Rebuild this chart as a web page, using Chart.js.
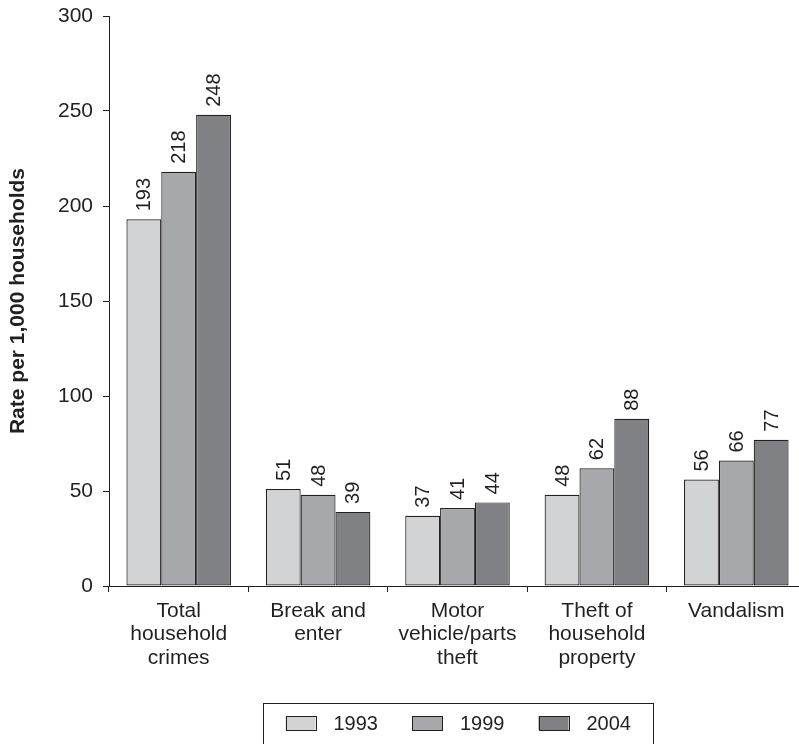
<!DOCTYPE html>
<html>
<head>
<meta charset="utf-8">
<script src="https://cdn.jsdelivr.net/npm/chart.js@4"></script>
<style>
  html, body { margin: 0; padding: 0; background: #fff; overflow: hidden; }
  #wrap { width: 808px; height: 744px; }
</style>
</head>
<body>
<div id="wrap"><canvas id="chart" width="808" height="744"></canvas></div>
<script>
// data
const categories = [
  ['Total', 'household', 'crimes'],
  ['Break and', 'enter'],
  ['Motor', 'vehicle/parts', 'theft'],
  ['Theft of', 'household', 'property'],
  ['Vandalism']
];
const years = ['1993', '1999', '2004'];
const rates1993 = [193, 51, 37, 48, 56];
const rates1999 = [218, 48, 41, 62, 66];
const rates2004 = [248, 39, 44, 88, 77];
const yMin = 0, yMax = 300, yStep = 50;

const INK = '#231f20';
const FONT = '"Liberation Sans", Arial, sans-serif';
const fills = ['#d2d3d5', '#a7a8ab', '#808184'];

// --- value labels, rotated, above each bar
const valueLabels = {
  id: 'valueLabels',
  afterDatasetsDraw(chart) {
    const c = chart.ctx;
    c.save();
    c.fillStyle = INK;
    c.font = '20px ' + FONT;
    c.textAlign = 'left';
    c.textBaseline = 'middle';
    chart.data.datasets.forEach((ds, i) => {
      chart.getDatasetMeta(i).data.forEach((bar, j) => {
        c.save();
        c.translate(bar.x + 1, bar.y - 8);
        c.rotate(-Math.PI / 2);
        c.fillText(String(ds.data[j]), 0, 0);
        c.restore();
      });
    });
    c.restore();
  }
};

// --- boxed legend under the axis labels
const boxedLegend = {
  id: 'boxedLegend',
  afterDraw(chart) {
    const c = chart.ctx, area = chart.chartArea;
    const boxW = 390, top = area.bottom + 117;
    const left = Math.round((area.left + area.right) / 2 - boxW / 2) + 0.5;
    c.save();
    c.strokeStyle = INK;
    c.lineWidth = 1;
    c.strokeRect(left, top + 0.5, boxW, 80);
    c.font = '20px ' + FONT;
    c.textBaseline = 'middle';
    c.textAlign = 'left';
    const cy = top + 20;
    chart.data.datasets.forEach((ds, i) => {
      const x = left + 22 + i * 126.5;
      c.fillStyle = ds.backgroundColor;
      c.fillRect(x, cy - 7, 30, 14);
      c.strokeStyle = INK;
      c.strokeRect(Math.round(x) + 0.5, Math.round(cy - 7) + 0.5, 30, 14);
      c.fillStyle = INK;
      c.fillText(ds.label, x + 48, cy + 1);
    });
    c.restore();
  }
};

new Chart(document.getElementById('chart'), {
  type: 'bar',
  data: {
    labels: categories,
    datasets: [
      { label: years[0], data: rates1993, backgroundColor: fills[0] },
      { label: years[1], data: rates1999, backgroundColor: fills[1] },
      { label: years[2], data: rates2004, backgroundColor: fills[2] }
    ].map(d => Object.assign(d, {
      borderColor: INK, borderWidth: 1.2, borderSkipped: false,
      barPercentage: 1, categoryPercentage: 0.75
    }))
  },
  options: {
    responsive: false,
    animation: false,
    devicePixelRatio: 1,
    layout: { padding: { top: 16, right: 2, bottom: 60, left: 0 } },
    plugins: { legend: { display: false }, tooltip: { enabled: false } },
    scales: {
      x: {
        grid: { drawOnChartArea: false, drawTicks: true, tickLength: 6, color: INK, offset: true },
        border: { display: true, color: INK, width: 1 },
        ticks: { color: INK, padding: 8, maxRotation: 0, autoSkip: false,
                 font: { family: FONT, size: 21, lineHeight: 1.1 } },
        afterFit(scale) { scale.height = 98; }
      },
      y: {
        min: yMin, max: yMax,
        grid: { drawOnChartArea: false, drawTicks: true, tickLength: 6, color: INK },
        border: { display: true, color: INK, width: 1 },
        ticks: { stepSize: yStep, color: INK, padding: 10,
                 font: { family: FONT, size: 21 } },
        title: { display: true, text: 'Rate per 1,000 households', color: INK,
                 padding: { top: 6, bottom: 0 },
                 font: { family: FONT, size: 21, weight: 'bold' } },
        afterFit(scale) {
          scale.width = 109;
          scale.paddingTop = 0;
          scale.paddingBottom = 0;
        }
      }
    }
  },
  plugins: [valueLabels, boxedLegend]
});
</script>
</body>
</html>
